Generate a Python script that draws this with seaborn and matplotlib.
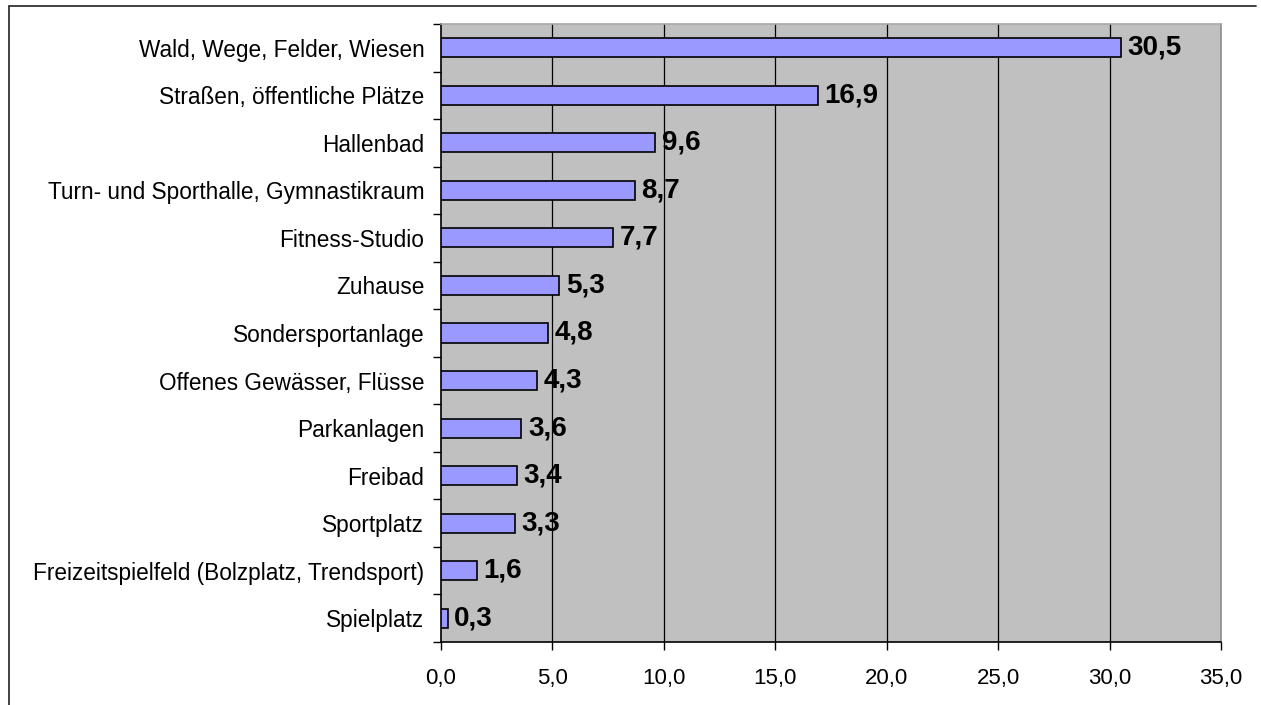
import matplotlib
matplotlib.use("Agg")
import matplotlib.pyplot as plt
from matplotlib.lines import Line2D
import seaborn as sns
import pandas as pd
import numpy as np

categories = [
    "Wald, Wege, Felder, Wiesen",
    "Straßen, öffentliche Plätze",
    "Hallenbad",
    "Turn- und Sporthalle, Gymnastikraum",
    "Fitness-Studio",
    "Zuhause",
    "Sondersportanlage",
    "Offenes Gewässer, Flüsse",
    "Parkanlagen",
    "Freibad",
    "Sportplatz",
    "Freizeitspielfeld (Bolzplatz, Trendsport)",
    "Spielplatz",
]
values = [30.5, 16.9, 9.6, 8.7, 7.7, 5.3, 4.8, 4.3, 3.6, 3.4, 3.3, 1.6, 0.3]
x_ticks = [0, 5, 10, 15, 20, 25, 30, 35]

df = pd.DataFrame({"Ort": categories, "Anteil": values})

sns.set_theme(style="white")
plt.rcParams["font.family"] = ["Liberation Sans", "DejaVu Sans"]
plt.rcParams["text.color"] = "black"
plt.rcParams["xtick.color"] = "black"
plt.rcParams["ytick.color"] = "black"

fig = plt.figure(figsize=(12.61, 7.05), dpi=100)
ax = fig.add_axes([441 / 1261, 1 - 642 / 705, 780 / 1261, 618 / 705])
ax.set_facecolor("#C0C0C0")

sns.barplot(data=df, x="Anteil", y="Ort", orient="h", ax=ax,
            color="#9999FF", saturation=1, width=0.4,
            edgecolor="black", linewidth=1.2, zorder=3)

ax.set_xlim(0, 35)
ax.set_ylim(len(categories) - 0.5, -0.5)
ax.set_xlabel("")
ax.set_ylabel("")

# vertical gridlines
for t in x_ticks[1:-1]:
    ax.axvline(t, color="black", lw=0.9, zorder=1)

ax.set_xticks(x_ticks)
ax.set_xticklabels([f"{t:.1f}".replace(".", ",") for t in x_ticks], fontsize=16)
ax.tick_params(axis="x", direction="out", length=6, width=1, color="black",
               labelcolor="black", pad=13, bottom=True)

ax.set_yticks(range(len(categories)))
ax.set_yticklabels(categories, fontsize=16.3)
ax.tick_params(axis="y", which="major", length=0, pad=12, labelcolor="black")
ax.set_yticks(np.arange(-0.5, len(categories), 1), minor=True)
ax.tick_params(axis="y", which="minor", direction="out", length=6, width=1,
               color="black", left=True)

for s in ["left", "bottom"]:
    ax.spines[s].set_color("black")
    ax.spines[s].set_linewidth(1.2)
ax.spines["right"].set_color("#8C8C8C")
ax.spines["top"].set_color("#A8A8A8")
ax.spines["right"].set_linewidth(1.2)
ax.spines["top"].set_linewidth(1.2)

# value labels at the bar ends
for i, v in enumerate(values):
    ax.text(v + 0.3, i, f"{v:.1f}".replace(".", ","), va="center", ha="left",
            fontsize=20, fontweight="bold", color="black", zorder=4)

# outer frame
fig.add_artist(Line2D([9 / 1261, 1256 / 1261], [1 - 6 / 705, 1 - 6 / 705],
                      transform=fig.transFigure, color="#333333", lw=1.3))
fig.add_artist(Line2D([9 / 1261, 9 / 1261], [1 - 6 / 705, 0],
                      transform=fig.transFigure, color="#333333", lw=1.3))

fig.savefig("out.png", dpi=100)
